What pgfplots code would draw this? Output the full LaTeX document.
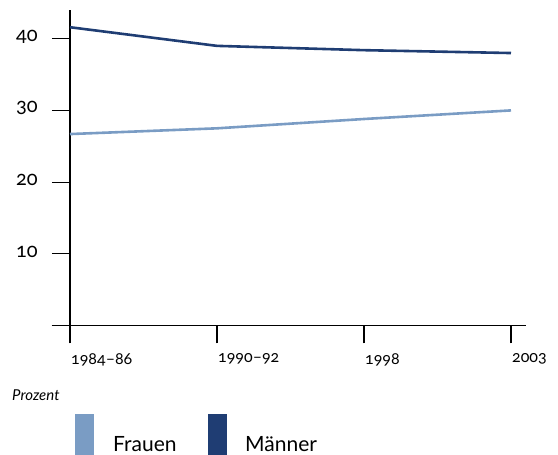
\documentclass[border=0pt]{standalone}
\usepackage{pgfplots}
\pgfplotsset{compat=1.18}
\usepackage{fontspec}
\setmainfont{Lato}[Numbers=OldStyle]
\newfontfamily\lat{Lato}[Numbers=OldStyle]
\definecolor{frauen}{HTML}{7A9CC4}
\definecolor{maenner}{HTML}{1F3D73}
\tikzset{
  xlab/.style={anchor=north west, inner sep=0pt, yshift=-28pt, xshift=1pt, font=\lat\fontsize{16}{19}\selectfont},
  ylab/.style={anchor=east, inner sep=0pt, xshift=-32pt, yshift=2pt, font=\lat\fontsize{20}{24}\selectfont},
}
\begin{document}
\begin{tikzpicture}[x=1pt,y=1pt]
\useasboundingbox (-70,-129.5) rectangle (488,325.5);
\begin{axis}[
  x=147pt, y=7.17pt,
  xmin=0, xmax=3.1, ymin=0, ymax=44,
  axis lines*=left,
  axis line style={black, line width=1.3pt},
  clip=false,
  tick align=outside,
  major tick length=18pt,
  tick style={black, line width=1.1pt},
  xtick={0,1,2,3},
  xticklabels={},
  ytick={10,20,30,40},
  yticklabels={},
  anchor=origin, at={(0,0)},
]
\addplot[color=frauen, line width=2.6pt] coordinates {(0,26.7) (1,27.5) (2,28.8) (3,30.0)};
\addplot[color=maenner, line width=2.6pt] coordinates {(0,41.6) (1,39.0) (2,38.4) (3,38.0)};
\draw[black, line width=1.3pt] (axis cs:-0.125,0) -- (axis cs:0,0);
\coordinate (x0) at (axis cs:0,0);
\coordinate (x1) at (axis cs:1,0);
\coordinate (x2) at (axis cs:2,0);
\coordinate (x3) at (axis cs:3,0);
\coordinate (y1) at (axis cs:0,10);
\coordinate (y2) at (axis cs:0,20);
\coordinate (y3) at (axis cs:0,30);
\coordinate (y4) at (axis cs:0,40);
\end{axis}
\node[xlab] at (x0) {1984–86};
\node[xlab] at (x1) {1990–92};
\node[xlab] at (x2) {1998};
\node[xlab] at (x3) {2003};
\node[ylab] at (y1) {10};
\node[ylab] at (y2) {20};
\node[ylab] at (y3) {30};
\node[ylab] at (y4) {40};
\node[anchor=base west, inner sep=0pt, font=\itshape\fontsize{15}{18}\selectfont] at (-58,-75) {Prozent};
\fill[frauen] (5,-130) rectangle (24,-89);
\node[anchor=base west, inner sep=0pt, font=\fontsize{21}{24}\selectfont] at (43,-126) {Frauen};
\fill[maenner] (138,-130) rectangle (157,-89);
\node[anchor=base west, inner sep=0pt, font=\fontsize{21}{24}\selectfont] at (175,-126) {Männer};
\end{tikzpicture}
\end{document}
